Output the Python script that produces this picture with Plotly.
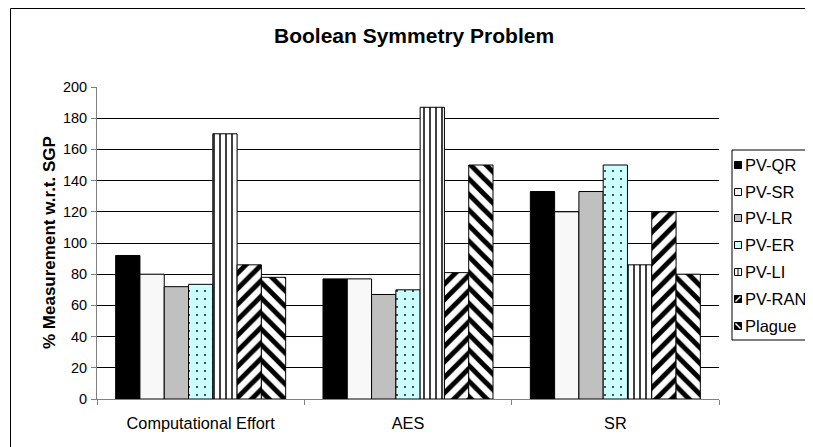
import plotly.graph_objects as go

categories = ["Computational Effort", "AES", "SR"]
series_names = ["PV-QR", "PV-SR", "PV-LR", "PV-ER", "PV-LI", "PV-RAN", "Plague"]
pv_qr = [92, 77, 133]
pv_sr = [80, 77, 120]
pv_lr = [72, 67, 133]
pv_er = [73.5, 70, 150]
pv_li = [170, 187, 86]
pv_ran = [86, 81, 120]
plague = [78, 150, 80]
y_ticks = [0, 20, 40, 60, 80, 100, 120, 140, 160, 180, 200]

values = [pv_qr, pv_sr, pv_lr, pv_er, pv_li, pv_ran, plague]

styles = [
    dict(bg="#000000", fg="#000000", shape="", size=8, sol=0.3),
    dict(bg="#f8f8f8", fg="#f8f8f8", shape="", size=8, sol=0.3),
    dict(bg="#c0c0c0", fg="#c0c0c0", shape="", size=8, sol=0.3),
    dict(bg="#ccffff", fg="#000000", shape=".", size=8, sol=0.04),
    dict(bg="#ffffff", fg="#000000", shape="|", size=6, sol=0.25),
    dict(bg="#ffffff", fg="#000000", shape="/", size=11, sol=0.45),
    dict(bg="#ffffff", fg="#000000", shape="\\", size=11, sol=0.45),
]

FONT = "Liberation Sans, Arial, sans-serif"
OFF = 8  # page body margin
W, H = 813 - OFF, 447 - OFF
L, R, T, B = 97 - OFF, 94, 87 - OFF, 48
PW = W - L - R
PH = H - T - B


def px(x):
    # page x pixel -> paper coordinate
    return (x - OFF - L) / PW


def py(y):
    # page y pixel -> paper coordinate
    return (H - B - (y - OFF)) / PH


fig = go.Figure()
for name, vals, st in zip(series_names, values, styles):
    pattern = dict(shape=st["shape"], fgcolor=st["fg"], bgcolor=st["bg"],
                   size=st["size"], solidity=st["sol"], fillmode="replace")
    fig.add_trace(go.Bar(
        name=name, x=categories, y=vals,
        marker=dict(color=st["bg"], pattern=pattern,
                    line=dict(color="#000000", width=1)),
        showlegend=False,
    ))

shapes = []
annotations = []
# outer chart border
shapes.append(dict(type="rect", xref="paper", yref="paper",
                   x0=px(10.5), x1=px(840), y0=py(8.5), y1=py(470),
                   line=dict(color="#000000", width=1), fillcolor="rgba(0,0,0,0)",
                   layer="below"))
# legend box
shapes.append(dict(type="rect", xref="paper", yref="paper",
                   x0=px(732), x1=px(840), y0=py(150), y1=py(340),
                   line=dict(color="#000000", width=1), fillcolor="#ffffff"))
leg_y = [165, 192, 218, 245, 272, 299, 326]
for name, st, yc in zip(series_names, styles, leg_y):
    x0, x1 = px(734.5), px(741.5)
    y0, y1 = py(yc + 3.5), py(yc - 3.5)
    if st["shape"] in ("/", "\\"):
        fill = "#000000"
    elif st["shape"] == "|":
        fill = "#ffffff"
    else:
        fill = st["bg"]
    shapes.append(dict(type="rect", xref="paper", yref="paper",
                       x0=x0, x1=x1, y0=y0, y1=y1,
                       line=dict(color="#000000", width=1), fillcolor=fill))
    if st["shape"] == "/":
        shapes.append(dict(type="line", xref="paper", yref="paper",
                           x0=px(735.5), y0=py(yc + 2.5), x1=px(740.5), y1=py(yc - 2.5),
                           line=dict(color="#ffffff", width=1.5)))
    elif st["shape"] == "\\":
        shapes.append(dict(type="line", xref="paper", yref="paper",
                           x0=px(735.5), y0=py(yc - 2.5), x1=px(740.5), y1=py(yc + 2.5),
                           line=dict(color="#ffffff", width=1.5)))
    elif st["shape"] == "|":
        shapes.append(dict(type="line", xref="paper", yref="paper",
                           x0=px(738), y0=py(yc - 3.5), x1=px(738), y1=py(yc + 3.5),
                           line=dict(color="#000000", width=1)))
    annotations.append(dict(text=name, xref="paper", yref="paper",
                            x=px(743), y=py(yc), xanchor="left", yanchor="middle",
                            showarrow=False, font=dict(family=FONT, size=16.5, color="#000000")))

# title
annotations.append(dict(text="<b>Boolean Symmetry Problem</b>", xref="paper", yref="paper",
                        x=px(414), y=py(36), xanchor="center", yanchor="middle",
                        showarrow=False, font=dict(family=FONT, size=21, color="#000000")))
# y-axis title
annotations.append(dict(text="<b>% Measurement w.r.t. SGP</b>", xref="paper", yref="paper",
                        x=px(49), y=py(243), xanchor="center", yanchor="middle",
                        textangle=-90, showarrow=False,
                        font=dict(family=FONT, size=17, color="#000000")))

fig.update_layout(
    width=W, height=H,
    margin=dict(l=L, r=R, t=T, b=B, autoexpand=False),
    paper_bgcolor="#ffffff", plot_bgcolor="#ffffff",
    barmode="group", bargap=0.18, bargroupgap=0,
    showlegend=False,
    font=dict(family=FONT, size=15, color="#000000"),
    shapes=shapes, annotations=annotations,
    xaxis=dict(showgrid=False, showline=True, linecolor="#808080", linewidth=1,
               ticks="outside", tickson="boundaries", ticklen=5, tickcolor="#808080",
               ticklabelstandoff=9,
               tickfont=dict(family=FONT, size=16.3, color="#000000")),
    yaxis=dict(range=[0, 200], tickvals=y_ticks, showgrid=True, gridcolor="#000000",
               gridwidth=1, showline=True, linecolor="#808080", linewidth=1,
               ticks="outside", ticklen=5, tickcolor="#808080", zeroline=False,
               ticklabelstandoff=1,
               tickfont=dict(family=FONT, size=14.5, color="#000000")),
)

fig.write_html("out.html")
